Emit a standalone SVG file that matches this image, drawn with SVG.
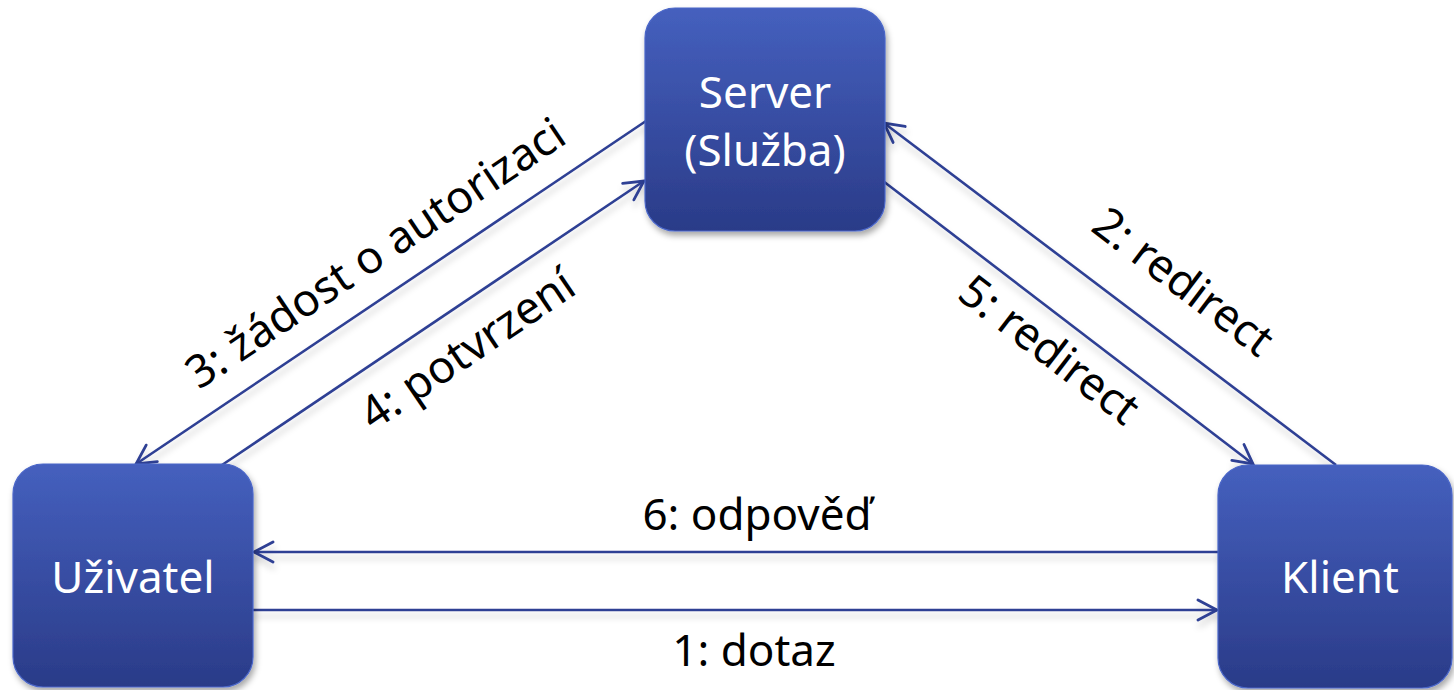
<svg xmlns="http://www.w3.org/2000/svg" width="1454" height="690" viewBox="0 0 1454 690">
  <defs>
    <linearGradient id="nodeFill" x1="0" y1="0" x2="0" y2="1">
      <stop offset="0" stop-color="#4560BE"/>
      <stop offset="1" stop-color="#2A3B88"/>
    </linearGradient>
    <filter id="nodeShadow" x="-20%" y="-20%" width="140%" height="140%">
      <feDropShadow dx="2" dy="4" stdDeviation="3" flood-color="#000" flood-opacity="0.35"/>
    </filter>
    <filter id="lineShadow" x="-10%" y="-10%" width="120%" height="120%">
      <feDropShadow dx="1" dy="6" stdDeviation="3" flood-color="#000" flood-opacity="0.18"/>
    </filter>
    <marker id="arrow" viewBox="-2 -2 24 24" refX="20" refY="10" markerWidth="24" markerHeight="24" markerUnits="userSpaceOnUse" orient="auto">
      <path d="M1,0 L20,10 L1,20" fill="none" stroke="#2E3F94" stroke-width="2.8" stroke-linecap="round" stroke-linejoin="miter"/>
    </marker>
  </defs>
  <style>
    .node rect { fill: url(#nodeFill); stroke: #4A66C8; stroke-width: 1.2; filter: url(#nodeShadow); }
    .node text { fill: #FFFFFF; font-family: "Noto Sans", "Open Sans", sans-serif; font-size: 44px; text-anchor: middle; }
    .edge { stroke: #2E3F94; stroke-width: 2.6; fill: none; marker-end: url(#arrow); }
    .label { fill: #000000; font-family: "Noto Sans", "Open Sans", sans-serif; font-size: 44px; text-anchor: middle; }
    .diag { font-size: 45px; }
  </style>

  <rect width="1454" height="690" fill="#FFFFFF"/>

  <!-- connectors -->
  <g id="connectors" filter="url(#lineShadow)">
    <line class="edge" x1="646" y1="121" x2="136" y2="464"/>
    <line class="edge" x1="222" y1="465" x2="644" y2="181"/>
    <line class="edge" x1="1336" y1="465" x2="884" y2="123"/>
    <line class="edge" x1="883" y1="181" x2="1253" y2="464"/>
    <line class="edge" x1="1218" y1="552" x2="254" y2="552"/>
    <line class="edge" x1="252" y1="610" x2="1217" y2="610"/>
  </g>

  <!-- connector labels -->
  <g id="labels">
    <text class="label diag" transform="translate(384,266) rotate(-33.9)">3: žádost o autorizaci</text>
    <text class="label diag" transform="translate(476,362) rotate(-34.1)">4: potvrzení</text>
    <text class="label diag" transform="translate(1174,294) rotate(37.2)">2: redirect</text>
    <text class="label diag" transform="translate(1040,362) rotate(37.5)">5: redirect</text>
    <text class="label" x="757" y="530">6: odpověď</text>
    <text class="label" x="754" y="666">1: dotaz</text>
  </g>

  <!-- nodes -->
  <g id="server" class="node">
    <rect x="645" y="8" width="240" height="223" rx="30"/>
    <text x="765" y="108">Server</text>
    <text x="765" y="166">(Služba)</text>
  </g>
  <g id="uzivatel" class="node">
    <rect x="13" y="464" width="240" height="223" rx="30"/>
    <text x="133" y="593">Uživatel</text>
  </g>
  <g id="klient" class="node">
    <rect x="1218" y="465" width="234" height="223" rx="30"/>
    <text x="1340" y="593">Klient</text>
  </g>
</svg>
